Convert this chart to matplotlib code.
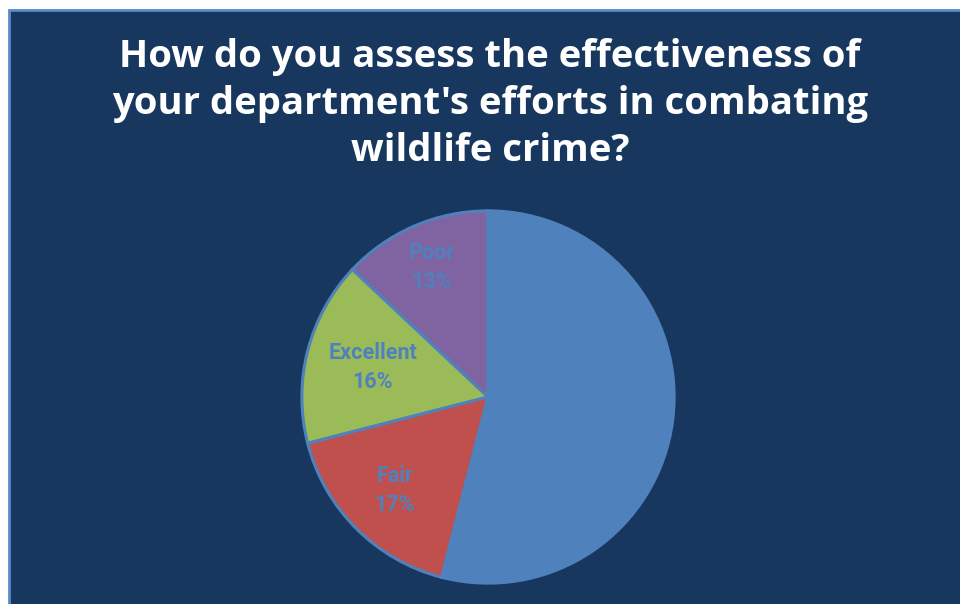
import numpy as np
import matplotlib
matplotlib.use("Agg")
import matplotlib.pyplot as plt
from matplotlib.patches import Rectangle

title = "How do you assess the effectiveness of\nyour department's efforts in combating\nwildlife crime?"
categories = ["Poor", "Excellent", "Fair", "Good"]
shares = [13, 16, 17, 54]
colors = ["#8064A2", "#9BBB59", "#C0504D", "#4F81BD"]
show_label = [True, True, True, False]
label_r = [0.76, 0.64, 0.71, 0.6]

W, H = 960, 604
fig = plt.figure(figsize=(W / 100, H / 100), dpi=100)
fig.patch.set_facecolor("white")

# navy panel with a thin blue frame
fig.patches.append(Rectangle((9 / W, -0.05), 1.1, 1.05 - 10 / H, transform=fig.transFigure,
                             facecolor="#17375E", edgecolor="#5A8AC8", linewidth=2.0, zorder=-5))

fig.text(490 / W, 1 - 104 / H, title, ha="center", va="center", color="white",
         fontsize=27.5, fontweight="bold", family=["Open Sans", "DejaVu Sans"],
         linespacing=1.3)

cx, cy, r = 488, 397, 188
ax = fig.add_axes([(cx - r) / W, (H - cy - r) / H, 2 * r / W, 2 * r / H])
ax.set_facecolor("none")
ax.set_zorder(2)
wedges, _ = ax.pie(shares, colors=colors, startangle=90, counterclock=True,
                   wedgeprops=dict(edgecolor="#4F81BD", linewidth=2.2))
ax.set_xlim(-1.01, 1.01)
ax.set_ylim(-1.01, 1.01)
ax.set_aspect("equal")
ax.axis("off")

start = 90.0
for name, val, show, lr in zip(categories, shares, show_label, label_r):
    mid = np.deg2rad(start + val * 3.6 / 2)
    start += val * 3.6
    if not show:
        continue
    ax.text(lr * np.cos(mid), lr * np.sin(mid), f"{name}\n{val}%", ha="center", va="center",
            color="#4F81BD", fontsize=15.5, fontweight="bold",
            family=["Roboto", "DejaVu Sans"], linespacing=1.4)

fig.savefig("out.png", dpi=100, facecolor=fig.get_facecolor())
